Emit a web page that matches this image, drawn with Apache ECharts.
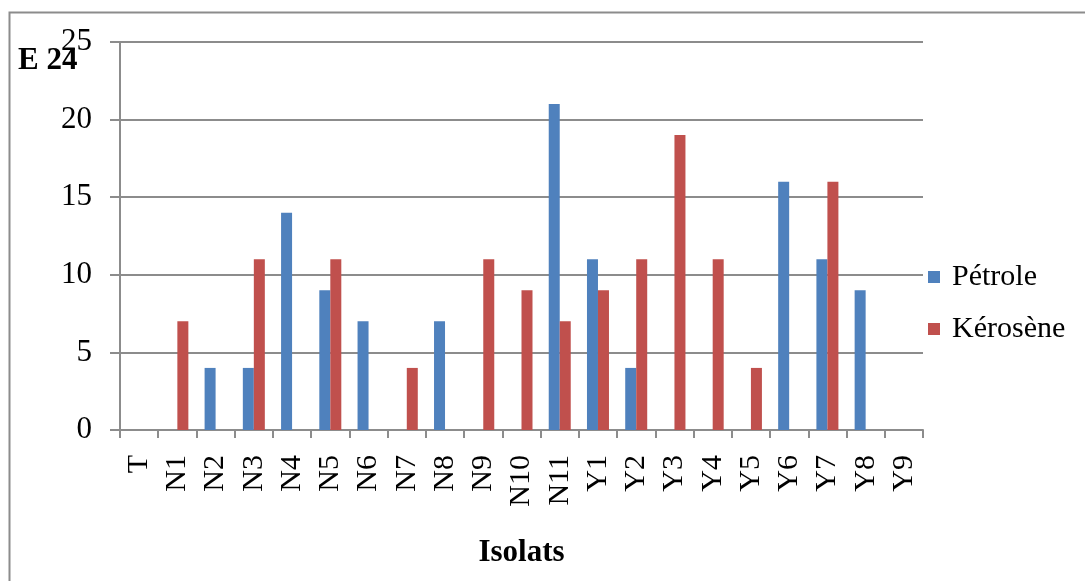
<!DOCTYPE html>
<html>
<head>
<meta charset="utf-8">
<script src="https://cdn.jsdelivr.net/npm/echarts@6/dist/echarts.min.js"></script>
<style>
  html, body { margin: 0; padding: 0; background: #fff; }
  #chart { width: 1085px; height: 581px; }
</style>
</head>
<body>
<div id="chart"></div>
<script>
// Isolates tested against the two hydrocarbons
const categories = ['T', 'N1', 'N2', 'N3', 'N4', 'N5', 'N6', 'N7', 'N8', 'N9', 'N10', 'N11',
  'Y1', 'Y2', 'Y3', 'Y4', 'Y5', 'Y6', 'Y7', 'Y8', 'Y9'];
const petrole  = [0, 0, 4, 4, 14, 9, 7, 0, 7, 0, 0, 21, 11, 4, 0, 0, 0, 16, 11, 9, 0];
const kerosene = [0, 7, 0, 11, 0, 11, 0, 4, 0, 11, 9, 7, 9, 11, 19, 11, 4, 0, 16, 0, 0];
const yTicks = [0, 5, 10, 15, 20, 25];

const FONT = '"Liberation Serif", "Times New Roman", serif';
const chart = echarts.init(document.getElementById('chart'));

chart.setOption({
  animation: false,
  backgroundColor: '#fff',
  grid: { left: 120, top: 42, width: 803, height: 388, containLabel: false },
  legend: {
    orient: 'vertical',
    left: 928,
    top: 262,
    padding: 0,
    itemWidth: 12,
    itemHeight: 12,
    itemGap: 22,
    icon: 'rect',
    textStyle: { fontFamily: FONT, fontSize: 30, lineHeight: 30, color: '#000', padding: [0, 0, 0, 7] },
    data: ['Pétrole', 'Kérosène']
  },
  xAxis: {
    type: 'category',
    data: categories,
    name: 'Isolats',
    nameLocation: 'middle',
    nameGap: 107,
    nameTextStyle: { fontFamily: FONT, fontSize: 31, fontWeight: 'bold', color: '#000' },
    axisLine: { lineStyle: { color: '#8c8c8c', width: 2 } },
    axisTick: { show: true, length: 8, lineStyle: { color: '#8c8c8c', width: 2 } },
    axisLabel: {
      rotate: 90,
      interval: 0,
      margin: 25,
      fontFamily: FONT,
      fontSize: 30,
      color: '#000'
    }
  },
  yAxis: {
    type: 'value',
    min: yTicks[0],
    max: yTicks[yTicks.length - 1],
    interval: 5,
    axisLine: { show: true, lineStyle: { color: '#8c8c8c', width: 2 } },
    axisTick: { show: true, length: 10, lineStyle: { color: '#8c8c8c', width: 2 } },
    axisLabel: { fontFamily: FONT, fontSize: 31, color: '#000', margin: 28 },
    splitLine: { lineStyle: { color: '#8c8c8c', width: 2 } }
  },
  graphic: [
    {
      type: 'rect',
      shape: { x: 9.5, y: 12.5, width: 1100, height: 600 },
      style: { fill: 'none', stroke: '#8c8c8c', lineWidth: 2 },
      silent: true
    },
    {
      type: 'text',
      left: 18,
      top: 45,
      style: { text: 'E 24', font: 'bold 31px ' + FONT, fill: '#000' },
      z: 10
    }
  ],
  series: [
    {
      name: 'Pétrole',
      type: 'bar',
      data: petrole,
      barWidth: 11,
      barGap: '0%',
      itemStyle: { color: '#4F81BD' }
    },
    {
      name: 'Kérosène',
      type: 'bar',
      data: kerosene,
      barWidth: 11,
      barGap: '0%',
      itemStyle: { color: '#C0504D' }
    }
  ]
});
</script>
</body>
</html>
